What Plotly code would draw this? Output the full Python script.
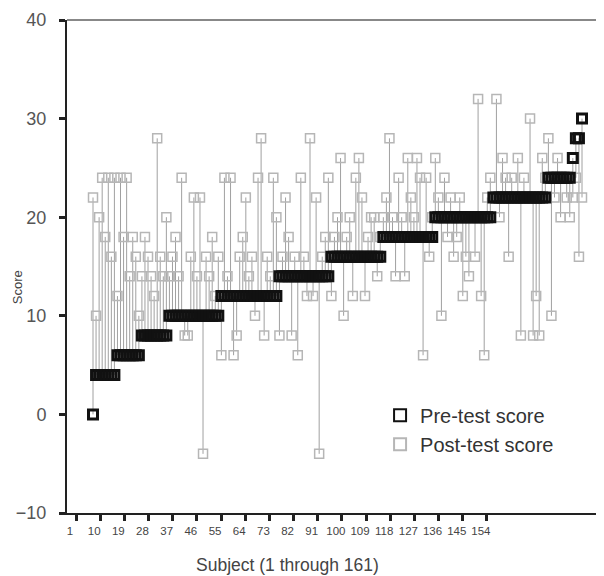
import plotly.graph_objects as go

# Subject numbers 1..161 (sorted by pre-test score)
subjects = list(range(1, 162))

pre_scores = (
    [0]
    + [4, 4, 4, 4, 4, 4, 4]
    + [6, 6, 6, 6, 6, 6, 6, 6]
    + [8, 8, 8, 8, 8, 8, 8, 8, 8]
    + [10, 10, 10, 10, 10, 10, 10, 10, 10, 10, 10, 10, 10, 10, 10, 10, 10]
    + [12, 12, 12, 12, 12, 12, 12, 12, 12, 12, 12, 12, 12, 12, 12, 12, 12, 12, 12]
    + [14, 14, 14, 14, 14, 14, 14, 14, 14, 14, 14, 14, 14, 14, 14, 14, 14]
    + [16, 16, 16, 16, 16, 16, 16, 16, 16, 16, 16, 16, 16, 16, 16, 16, 16]
    + [18, 18, 18, 18, 18, 18, 18, 18, 18, 18, 18, 18, 18, 18, 18, 18, 18]
    + [20, 20, 20, 20, 20, 20, 20, 20, 20, 20, 20, 20, 20, 20, 20, 20, 20, 20, 20]
    + [22, 22, 22, 22, 22, 22, 22, 22, 22, 22, 22, 22, 22, 22, 22, 22, 22, 22]
    + [24, 24, 24, 24, 24, 24, 24, 24]
    + [26]
    + [28, 28]
    + [30]
)

post_scores = (
    [22]
    + [10, 20, 24, 18, 24, 16, 24]
    + [12, 24, 18, 24, 14, 18, 16, 10]
    + [14, 18, 16, 14, 12, 28, 16, 14, 20]
    + [14, 16, 18, 14, 24, 8, 8, 16, 22, 14, 22, -4, 16, 14, 18, 12, 16]
    + [6, 24, 14, 24, 6, 8, 16, 18, 22, 14, 16, 10, 24, 28, 8, 16, 14, 24, 20]
    + [8, 16, 22, 18, 8, 16, 6, 24, 16, 12, 28, 12, 22, -4, 16, 18, 24]
    + [12, 18, 20, 26, 10, 18, 20, 12, 24, 26, 22, 12, 18, 20, 20, 14, 18]
    + [20, 22, 28, 20, 14, 24, 20, 14, 26, 22, 20, 26, 24, 6, 24, 16, 20]
    + [26, 22, 10, 24, 18, 22, 16, 18, 22, 12, 16, 14, 20, 16, 32, 12, 6, 22, 24]
    + [22, 32, 20, 26, 24, 16, 24, 22, 26, 8, 24, 22, 30, 8, 12, 8, 26, 24]
    + [28, 10, 22, 26, 20, 24, 22, 20]
    + [22]
    + [24, 16]
    + [22]
)

tick_labels = ["1", "10", "19", "28", "37", "46", "55", "64", "73", "82",
               "91", "100", "109", "118", "127", "136", "145", "154"]
tick_subjects = [1, 10, 19, 28, 37, 46, 55, 64, 73, 82, 91, 100, 109, 118,
                 127, 136, 145, 154]

# connector lines pre -> post
lx, ly = [], []
for s, a, b in zip(subjects, pre_scores, post_scores):
    lx += [s, s, None]
    ly += [a, b, None]

fig = go.Figure()
fig.add_trace(go.Scatter(x=lx, y=ly, mode="lines",
                         line=dict(color="#a0a0a0", width=1),
                         showlegend=False, hoverinfo="skip"))
fig.add_trace(go.Scatter(x=subjects, y=post_scores, mode="markers",
                         name="Post-test score", legendrank=2, legendgroup="post",
                         marker=dict(symbol="square-open", size=9,
                                     color="#b6b6b6", line=dict(width=1.5)),
                         hoverinfo="skip"))
fig.add_trace(go.Scatter(x=subjects, y=pre_scores, mode="markers",
                         name="Pre-test score", legendrank=1, legendgroup="pre",
                         marker=dict(symbol="square-open", size=9,
                                     color="#111111", line=dict(width=3)),
                         hoverinfo="skip"))
# dummy trace for the tick axis
fig.add_trace(go.Scatter(x=[tick_subjects[0]], y=[None], xaxis="x2",
                         mode="markers", showlegend=False, hoverinfo="skip"))

font_family = "Liberation Sans, Arial, sans-serif"

fig.update_layout(
    width=596, height=568,
    margin=dict(l=59, r=0, t=12, b=63, autoexpand=False),
    paper_bgcolor="white", plot_bgcolor="white",
    font=dict(family=font_family, color="#333333"),
    showlegend=True,
    legend=dict(x=0.583, y=0.238, xanchor="left", yanchor="top",
                font=dict(size=20, color="#333333"),
                bgcolor="rgba(0,0,0,0)", tracegroupgap=0,
                traceorder="grouped", itemwidth=30, itemsizing="constant"),
    xaxis=dict(range=[-7.51, 168.2], showticklabels=False, ticks="",
               showgrid=False, zeroline=False, showline=True,
               linecolor="#222222", linewidth=2, mirror=False),
    xaxis2=dict(overlaying="x", side="bottom", anchor="y", range=[-2.35, 197.6],
                tickvals=tick_subjects, ticktext=tick_labels,
                ticks="outside", ticklen=6, tickwidth=3, tickcolor="#222222",
                ticklabelshift=-6,
                tickfont=dict(size=11.5, color="#444444"),
                showgrid=False, zeroline=False,
                showline=True, linecolor="#222222", linewidth=2),
    yaxis=dict(range=[-10, 40], tickvals=[-10, 0, 10, 20, 30, 40],
               ticks="outside", ticklen=6, tickwidth=3, tickcolor="#222222",
               showgrid=False, zeroline=False, showline=True,
               linecolor="#222222", linewidth=2,
               ticklabelstandoff=9,
               tickfont=dict(size=18, color="#555555")),
    shapes=[dict(type="line", xref="paper", yref="paper", x0=0, x1=1,
                 y0=1, y1=1, line=dict(color="#888888", width=2))],
    annotations=[
        dict(text="Score", xref="paper", yref="paper",
             x=-0.093, y=0.458, textangle=-90, showarrow=False,
             xanchor="center", yanchor="middle",
             font=dict(size=13, color="#444444")),
        dict(text="Subject (1 through 161)", xref="paper", yref="paper",
             x=0.41, y=-0.1055, showarrow=False,
             xanchor="center", yanchor="middle",
             font=dict(size=17.5, color="#444444")),
    ],
)

fig.write_html("out.html")
